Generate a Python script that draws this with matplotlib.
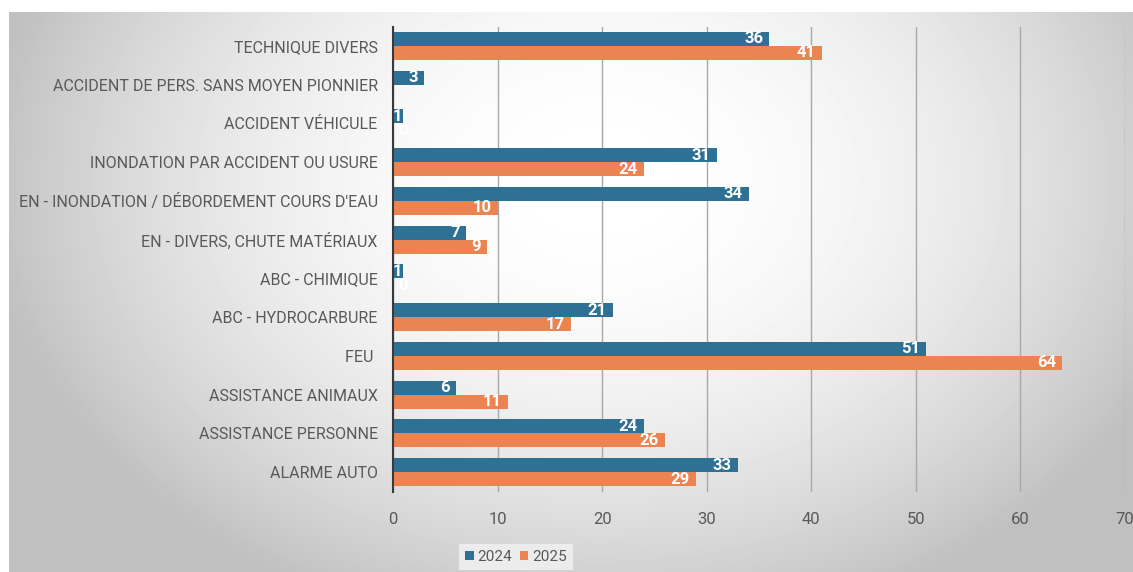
import numpy as np
import matplotlib
matplotlib.use("Agg")
import matplotlib.pyplot as plt

# Data (top to bottom)
categories = [
    "TECHNIQUE DIVERS",
    "ACCIDENT DE PERS. SANS MOYEN PIONNIER",
    "ACCIDENT VÉHICULE",
    "INONDATION PAR ACCIDENT OU USURE",
    "EN - INONDATION / DÉBORDEMENT COURS D'EAU",
    "EN - DIVERS, CHUTE MATÉRIAUX",
    "ABC - CHIMIQUE",
    "ABC - HYDROCARBURE",
    "FEU ",
    "ASSISTANCE ANIMAUX",
    "ASSISTANCE PERSONNE",
    "ALARME AUTO",
]
values_2024 = [36, 3, 1, 31, 34, 7, 1, 21, 51, 6, 24, 33]
values_2025 = [41, None, 0, 24, 10, 9, 0, 17, 64, 11, 26, 29]
series_names = ["2024", "2025"]
x_ticks = [0, 10, 20, 30, 40, 50, 60, 70]

blue = "#2f7194"
orange = "#eb8450"
text_grey = "#595959"

plt.rcParams["font.family"] = ["Roboto", "DejaVu Sans"]

W, H = 1133, 572
fig = plt.figure(figsize=(W / 100, H / 100), dpi=100)
fig.patch.set_facecolor("white")

# radial grey background panel
bg = fig.add_axes([9 / W, 0, 1 - 9 / W, 1 - 12 / H], zorder=-5)
yy, xx = np.mgrid[12:H, 9:W]
d2 = ((xx - 600) / 560.0) ** 2 + ((yy - 180) / 420.0) ** 2
val = np.clip(255 - 52 * d2, 192, 255) / 255.0
bg.imshow(val, cmap="gray", vmin=0, vmax=1, aspect="auto", interpolation="bilinear")
bg.axis("off")

ax = fig.add_axes([393 / W, 1 - 491.5 / H, (1125 - 393) / W, (491.5 - 26.5) / H])
ax.set_facecolor("none")

y = np.arange(len(categories))
h = 0.36
v25 = [v if v is not None else 0 for v in values_2025]
b1 = ax.barh(y - h / 2, values_2024, height=h, color=blue, label=series_names[0], zorder=3)
b2 = ax.barh(y + h / 2, v25, height=h, color=orange, label=series_names[1], zorder=3)

def add_labels(vals, offs):
    for yi, v in zip(y, vals):
        if v is None:
            continue
        if v >= 2:
            ax.text(v - 0.6, yi + offs, str(v), ha="right", va="center",
                    color="white", fontsize=12, fontweight="bold", zorder=4)
        else:
            ax.text(0.45 if v else 1.0, yi + offs, str(v), ha="center", va="center",
                    color="white", fontsize=12, fontweight="bold", zorder=4)

add_labels(values_2024, -h / 2)
add_labels(values_2025, h / 2)

ax.set_ylim(len(categories) - 0.5, -0.5)
ax.set_xlim(0, 70)
ax.set_yticks(y)
ax.set_yticklabels(categories, fontsize=11.5, color=text_grey)
ax.set_xticks(x_ticks)
ax.set_xticklabels([str(t) for t in x_ticks], fontsize=12, color=text_grey)
ax.tick_params(axis="both", length=0)
ax.tick_params(axis="x", pad=15)
ax.tick_params(axis="y", pad=11)
ax.grid(axis="x", color="#a8a8a8", linewidth=1, zorder=0)
for s in ["top", "right", "bottom"]:
    ax.spines[s].set_visible(False)
ax.spines["left"].set_color("#3a3a3a")
ax.spines["left"].set_linewidth(1.5)
ax.spines["left"].set_zorder(5)

leg = fig.legend(handles=[b1, b2], labels=series_names, loc="center",
                 bbox_to_anchor=(516 / W, 1 - 557 / H), ncol=2, frameon=True,
                 fancybox=False, facecolor="#ececec", edgecolor="none",
                 framealpha=1, fontsize=11, handlelength=0.55, handleheight=0.55,
                 handletextpad=0.25, columnspacing=0.5, borderpad=0.4)
for t in leg.get_texts():
    t.set_color(text_grey)

fig.savefig("out.png", dpi=100)
